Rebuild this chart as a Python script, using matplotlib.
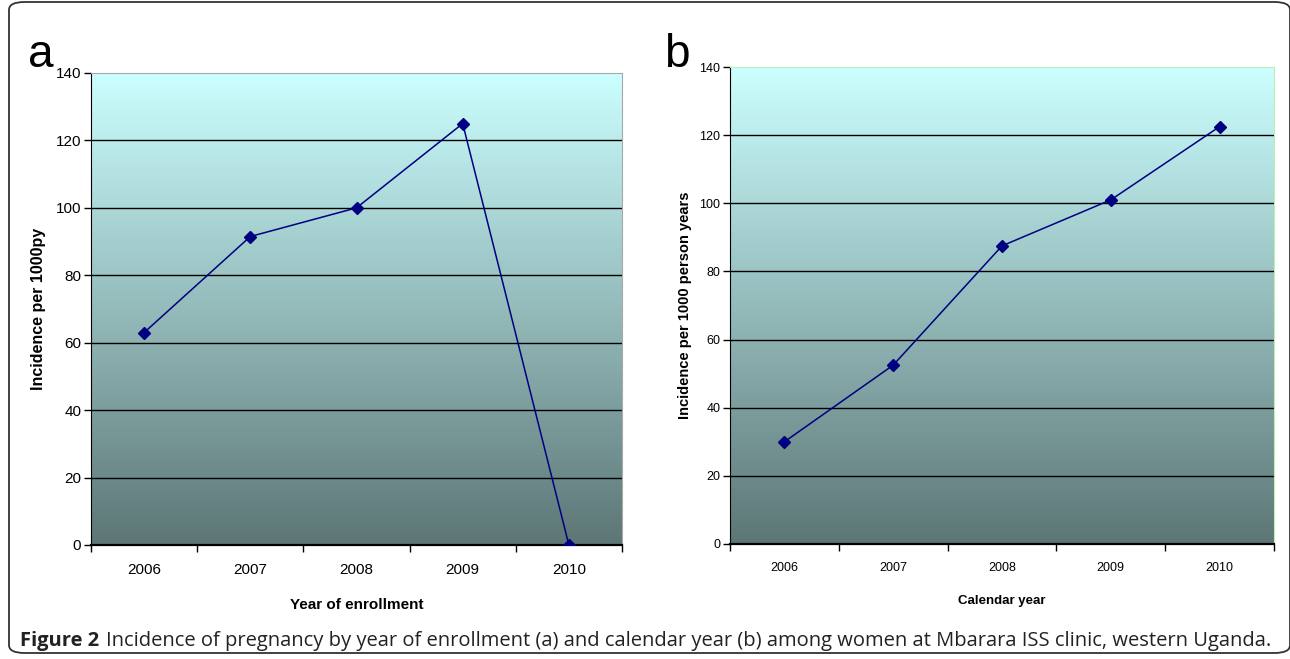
import numpy as np
import matplotlib.pyplot as plt
from matplotlib.patches import FancyBboxPatch
from matplotlib.colors import LinearSegmentedColormap

years = ["2006", "2007", "2008", "2009", "2010"]
incidence_enrollment = [63, 91.5, 100, 125, 0]
incidence_calendar = [30, 52.5, 87.5, 101, 122.5]
y_ticks = [0, 20, 40, 60, 80, 100, 120, 140]

narrow = ["Liberation Sans Narrow", "Liberation Sans", "DejaVu Sans"]
bold_font = ["Liberation Sans", "DejaVu Sans"]

fig = plt.figure(figsize=(12.9, 6.59), dpi=100)

# rounded frame round the whole figure
frame = FancyBboxPatch(
    (9 / 1290, 6 / 659), 1281 / 1290, 651 / 659,
    boxstyle="round,pad=0,rounding_size=0.012",
    transform=fig.transFigure, facecolor="none",
    edgecolor="#333333", linewidth=1.3, zorder=0
)
fig.patches.append(frame)

grad = LinearSegmentedColormap.from_list("bg", ["#5d7676", "#ccffff"])
gradient = np.linspace(0, 1, 256).reshape(-1, 1)


def draw_panel(ax, values, tick_size, edge_color):
    ax.imshow(gradient, cmap=grad, aspect="auto", origin="lower",
              extent=[0, 1, 0, 1], transform=ax.transAxes, zorder=0)
    x = np.arange(len(years))
    for g in y_ticks[1:-1]:
        ax.axhline(g, color="black", linewidth=1.0, zorder=1)
    ax.plot(x, values, color="#000080", linewidth=1.1, marker="D",
            markersize=6, zorder=3)
    ax.set_xlim(-0.5, len(years) - 0.5)
    ax.set_ylim(0, 140)
    ax.set_yticks(y_ticks)
    ax.set_yticklabels([str(t) for t in y_ticks], fontsize=tick_size,
                       family=narrow)
    ax.set_xticks(np.arange(-0.5, len(years), 1.0))
    ax.set_xticklabels([])
    ax.set_xticks(x, minor=True)
    ax.set_xticklabels(years, minor=True, fontsize=tick_size, family=narrow)
    ax.tick_params(axis="x", which="minor", length=0, pad=13)
    ax.tick_params(axis="both", which="major", length=5, width=1,
                   direction="out", color="black")
    ax.tick_params(axis="y", pad=2)
    ax.spines["left"].set_color("black")
    ax.spines["bottom"].set_color("black")
    ax.spines["bottom"].set_linewidth(1.6)
    ax.spines["top"].set_color(edge_color)
    ax.spines["right"].set_color(edge_color)


# panel a
ax1 = fig.add_axes([91 / 1290, 1 - 545 / 659, 531 / 1290, 472 / 659])
draw_panel(ax1, incidence_enrollment, 11, "#a8a8a8")
ax1.set_ylabel("Incidence per 1000py", fontsize=11.5, fontweight="bold",
               family=bold_font, labelpad=7)
ax1.set_xlabel("Year of enrollment", fontsize=11, fontweight="bold",
               family=narrow, labelpad=15)

# panel b
ax2 = fig.add_axes([730 / 1290, 1 - 544 / 659, 544 / 1290, 477 / 659])
draw_panel(ax2, incidence_calendar, 9, "#b8f0b8")
ax2.set_ylabel("Incidence per 1000 person years", fontsize=10.5,
               fontweight="bold", family=bold_font, labelpad=5)
ax2.set_xlabel("Calendar year", fontsize=9.5, fontweight="bold",
               family=narrow, labelpad=15)

# panel letters
fig.text(28 / 1290, 1 - 67 / 659, "a", fontsize=33, family=bold_font)
fig.text(664 / 1290, 1 - 67 / 659, "b", fontsize=33, family=bold_font)

# caption
cap_y = 1 - 641 / 659
t1 = fig.text(20 / 1290, cap_y, "Figure 2", fontsize=14.5,
              fontweight="bold", family=["Open Sans", "DejaVu Sans"],
              va="center", color="#222222")
fig.canvas.draw()
bb = t1.get_window_extent()
fig.text((bb.x1 + 7) / 1290, cap_y,
         "Incidence of pregnancy by year of enrollment (a) and calendar year (b) "
         "among women at Mbarara ISS clinic, western Uganda.",
         fontsize=14.5, family=["Open Sans", "DejaVu Sans"], va="center",
         color="#222222")

plt.savefig("out.png", dpi=100)
